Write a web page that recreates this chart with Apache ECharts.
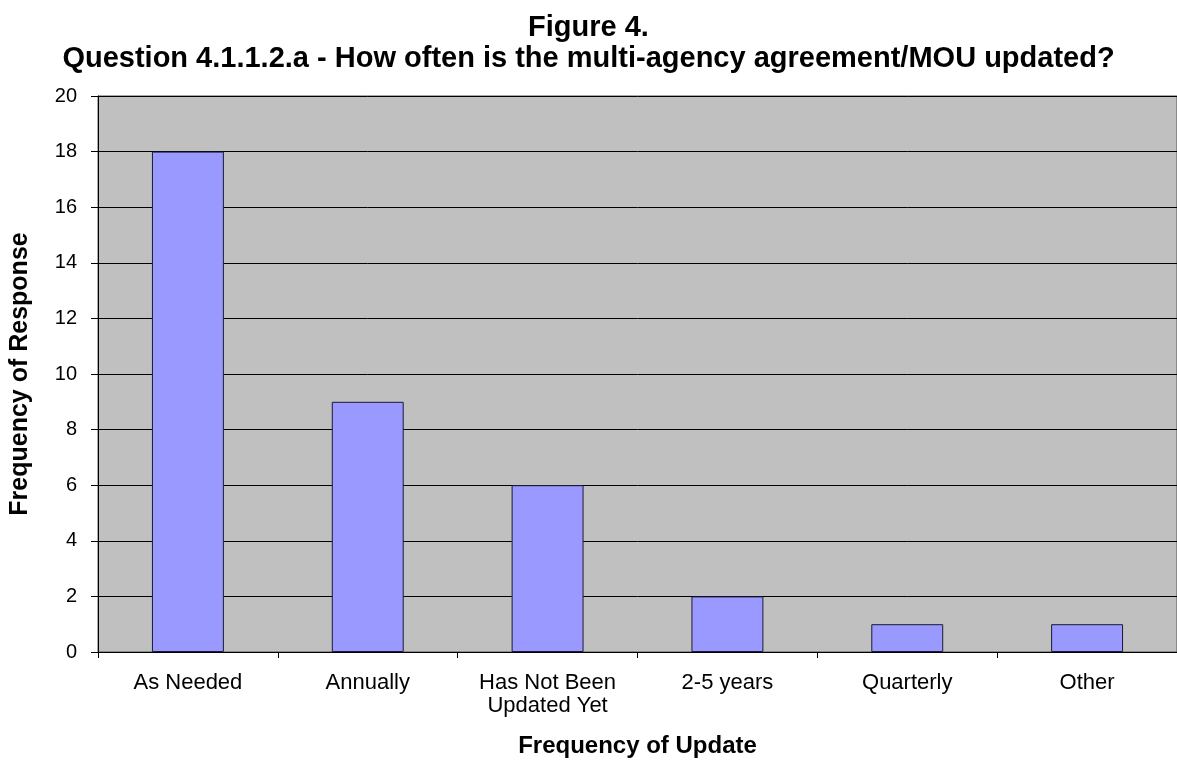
<!DOCTYPE html>
<html>
<head>
<meta charset="utf-8">
<script src="https://cdn.jsdelivr.net/npm/echarts@6/dist/echarts.min.js"></script>
<style>
  html, body { margin: 0; padding: 0; background: #fff; }
  #chart { width: 1177px; height: 765px; }
</style>
</head>
<body>
<div id="chart"></div>
<script>
// categories and counts
const categories = ['As Needed', 'Annually', 'Has Not Been\nUpdated Yet', '2-5 years', 'Quarterly', 'Other']
const responses = [18, 9, 6, 2, 1, 1]

const chart = echarts.init(document.getElementById('chart'))
chart.setOption({
  backgroundColor: '#fff',
  textStyle: { fontFamily: 'Liberation Sans, Arial, sans-serif' },
  title: {
    left: 'center',
    top: 7,
    text: 'Figure 4.\nQuestion 4.1.1.2.a - How often is the multi-agency agreement/MOU updated?',
    textStyle: { fontSize: 29, fontWeight: 'bold', color: '#000', lineHeight: 31 }
  },
  grid: {
    left: 97,
    right: 0,
    top: 96,
    bottom: 113,
    show: true,
    backgroundColor: '#c0c0c0',
    borderColor: '#555',
    borderWidth: 1
  },
  xAxis: {
    type: 'category',
    data: categories,
    name: 'Frequency of Update',
    nameLocation: 'middle',
    nameGap: 82,
    nameTextStyle: { fontSize: 24, fontWeight: 'bold', color: '#000' },
    axisLine: { lineStyle: { color: '#000', width: 1 } },
    axisTick: { show: true, length: 6, lineStyle: { color: '#000' } },
    axisLabel: { fontSize: 22, color: '#000', margin: 19, lineHeight: 23 }
  },
  yAxis: {
    type: 'value',
    min: 0,
    max: 20,
    interval: 2,
    name: 'Frequency of Response',
    nameLocation: 'middle',
    nameGap: 65,
    nameTextStyle: { fontSize: 25, fontWeight: 'bold', color: '#000' },
    axisLine: { show: true, lineStyle: { color: '#000', width: 1 } },
    axisTick: { show: true, length: 7, lineStyle: { color: '#000' } },
    axisLabel: { fontSize: 20, color: '#000', margin: 21 },
    splitLine: { lineStyle: { color: '#000', width: 1 } }
  },
  series: [{
    type: 'bar',
    data: responses,
    barWidth: '40%',
    itemStyle: { color: '#9999ff', borderColor: '#1a1a33', borderWidth: 1 }
  }]
})
</script>
</body>
</html>
